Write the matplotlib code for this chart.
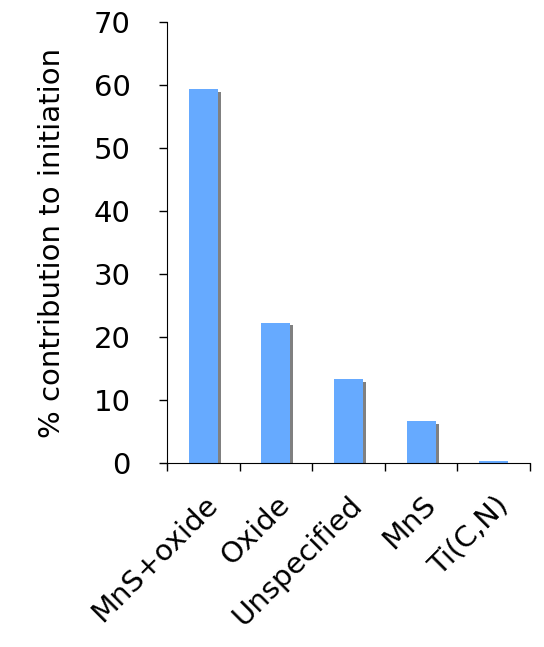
import matplotlib

matplotlib.use("Agg")
import matplotlib.pyplot as plt
import numpy as np

plt.rcParams["font.family"] = "DejaVu Sans"

categories = ["MnS+oxide", "Oxide", "Unspecified", "MnS", "Ti(C,N)"]
values = [59.3, 22.3, 13.3, 6.7, 0.3]

BAR = "#66AAFF"
SHADOW = "#808080"

fig = plt.figure(figsize=(5.44, 6.47), dpi=100)
ax = fig.add_axes([167 / 544, 1 - 463 / 647, 363 / 544, 441 / 647])

x = np.arange(len(categories))
w = 0.4
# drop shadow, slightly offset right and down
ax.bar(x + 0.04, values, width=w, color=SHADOW, zorder=1,
       bottom=-0.45)
ax.bar(x, values, width=w, color=BAR, zorder=2)

ax.set_xlim(-0.5, len(categories) - 0.5)
ax.set_ylim(0, 70)
ax.set_yticks(range(0, 71, 10))
ax.tick_params(axis="y", labelsize=21, direction="out", length=6, width=1, pad=20)

ax.set_xticks(np.arange(-0.5, len(categories), 1))
ax.set_xticklabels([])
ax.set_xticks(x, minor=True)
ax.set_xticklabels(categories, minor=True, rotation=45, ha="right",
                   rotation_mode="anchor", fontsize=21)
ax.tick_params(axis="x", which="major", direction="out", length=6, width=1)
ax.tick_params(axis="x", which="minor", length=0, pad=20)

for s in ("top", "right"):
    ax.spines[s].set_visible(False)
ax.set_ylabel("% contribution to initiation", fontsize=21, labelpad=20)

fig.savefig("out.png", dpi=100, facecolor="white")
